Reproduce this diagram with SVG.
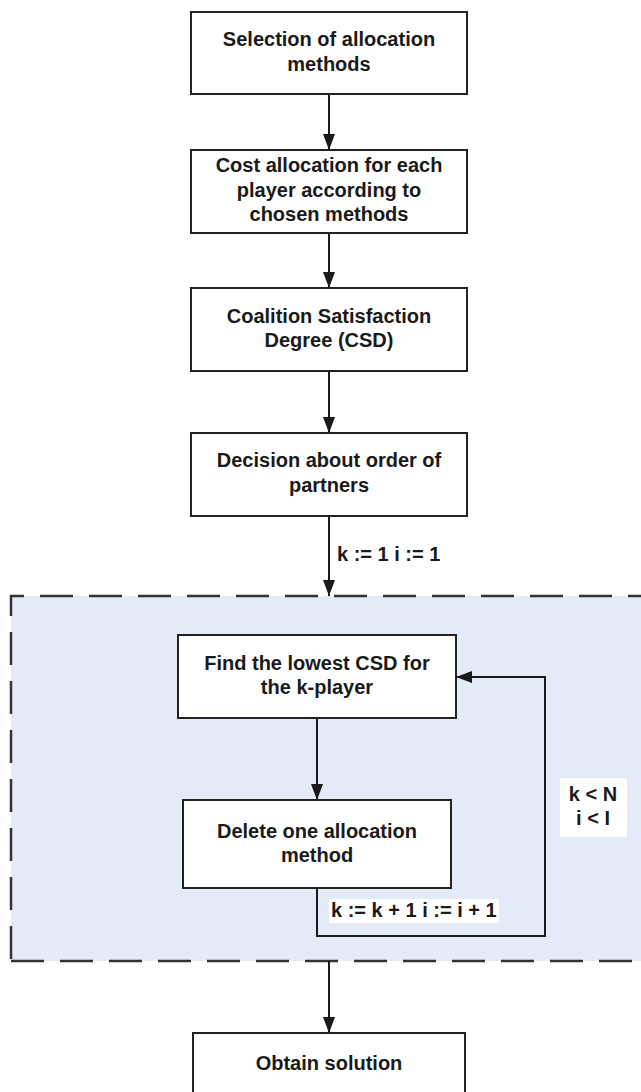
<svg xmlns="http://www.w3.org/2000/svg" width="641" height="1092" viewBox="0 0 641 1092">
<style>
.box{fill:#ffffff;stroke:#222222;stroke-width:2}
.t{font-family:"Liberation Sans",Arial,sans-serif;font-weight:bold;font-size:20px;fill:#1a1a1a;text-anchor:middle}
.tl{font-family:"Liberation Sans",Arial,sans-serif;font-weight:bold;font-size:20px;fill:#1a1a1a}
.conn{fill:none;stroke:#1a1a1a;stroke-width:2}
.dash{fill:none;stroke:#333333;stroke-width:2.5;stroke-dasharray:33 16}
</style>
<defs>
<marker id="arr" markerUnits="userSpaceOnUse" markerWidth="16" markerHeight="12" refX="16" refY="6" orient="auto">
<path d="M0,0 L16,6 L0,12 z" fill="#1a1a1a"/>
</marker>
</defs>
<rect width="641" height="1092" fill="#ffffff"/>
<g id="loop-region">
<rect x="11" y="596" width="640" height="365" fill="#e4eaf6"/>
<path class="dash" d="M11,961 V596 H660" stroke-dashoffset="-2"/>
<path class="dash" d="M11,961 H660" stroke-dashoffset="0"/>
</g>
<g id="connectors">
<line class="conn" x1="329" y1="94" x2="329" y2="150" marker-end="url(#arr)"/>
<line class="conn" x1="329" y1="233" x2="329" y2="288" marker-end="url(#arr)"/>
<line class="conn" x1="329" y1="371" x2="329" y2="433" marker-end="url(#arr)"/>
<line class="conn" x1="329" y1="516" x2="329" y2="596" marker-end="url(#arr)"/>
<line class="conn" x1="317" y1="718" x2="317" y2="800" marker-end="url(#arr)"/>
<path class="conn" d="M317,888 V936 H545 V677 H456" marker-end="url(#arr)"/>
<line class="conn" x1="329" y1="961" x2="329" y2="1033" marker-end="url(#arr)"/>
<text class="tl" x="337" y="561">k := 1 i := 1</text>
<rect x="329" y="899" width="170" height="24" fill="#ffffff"/>
<text class="tl" x="331" y="917">k := k + 1 i := i + 1</text>
<rect x="560" y="778" width="67" height="59" fill="#ffffff"/>
<text class="t" x="593" y="801">k &lt; N</text>
<text class="t" x="593" y="825">i &lt; I</text>
</g>
<g id="n1">
<rect class="box" x="191" y="12" width="276" height="82"/>
<text class="t" x="329" y="46">Selection of allocation</text>
<text class="t" x="329" y="71">methods</text>
</g>
<g id="n2">
<rect class="box" x="191" y="150" width="276" height="83"/>
<text class="t" x="329" y="172">Cost allocation for each</text>
<text class="t" x="329" y="197">player according to</text>
<text class="t" x="329" y="221">chosen methods</text>
</g>
<g id="n3">
<rect class="box" x="191" y="288" width="276" height="83"/>
<text class="t" x="329" y="323">Coalition Satisfaction</text>
<text class="t" x="329" y="347">Degree (CSD)</text>
</g>
<g id="n4">
<rect class="box" x="191" y="433" width="276" height="83"/>
<text class="t" x="329" y="467">Decision about order of</text>
<text class="t" x="329" y="492">partners</text>
</g>
<g id="n5">
<rect class="box" x="178" y="635" width="278" height="83"/>
<text class="t" x="317" y="670">Find the lowest CSD for</text>
<text class="t" x="317" y="694">the k-player</text>
</g>
<g id="n6">
<rect class="box" x="183" y="800" width="268" height="88"/>
<text class="t" x="317" y="838">Delete one allocation</text>
<text class="t" x="317" y="862">method</text>
</g>
<g id="n7">
<rect class="box" x="193" y="1033" width="272" height="70"/>
<text class="t" x="329" y="1070">Obtain solution</text>
</g>
</svg>
